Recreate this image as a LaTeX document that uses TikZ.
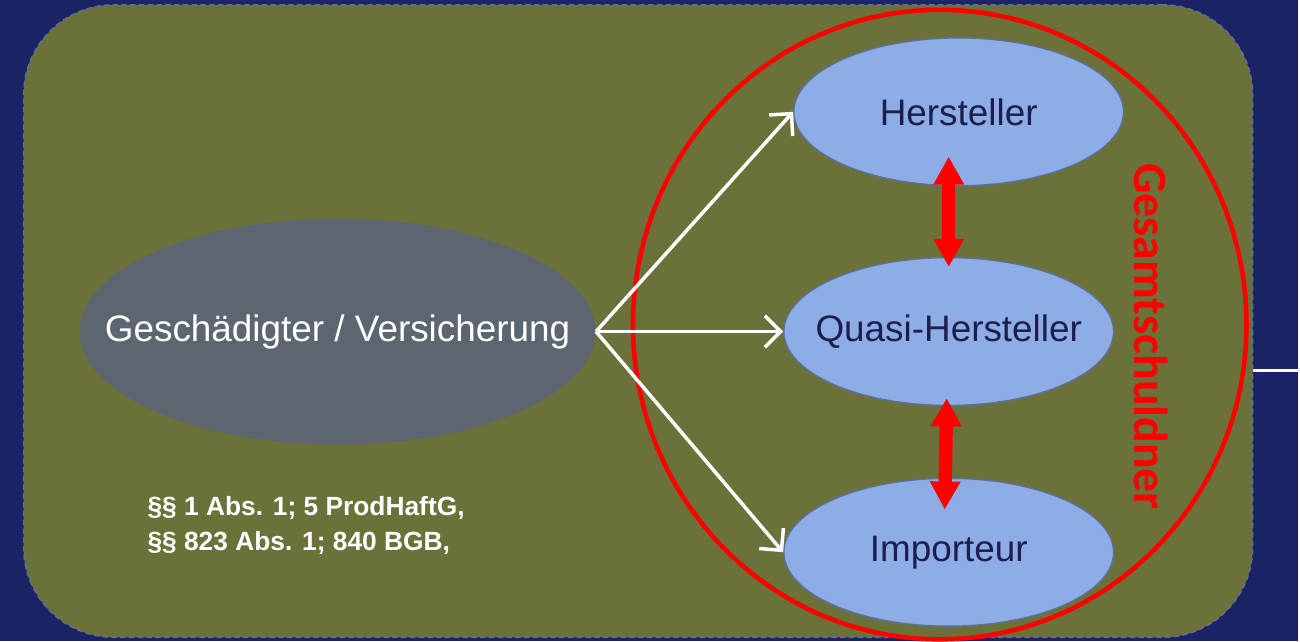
\documentclass[tikz,border=0pt]{standalone}
\usepackage{fontspec}
\setmainfont{Liberation Sans}
\newfontfamily\carlito{Carlito}
\usetikzlibrary{shapes.geometric,arrows.meta}
\definecolor{nachtblau}{HTML}{1C2266}
\definecolor{oliv}{HTML}{6C713A}
\definecolor{hellblau}{HTML}{8EADE6}
\definecolor{randblau}{HTML}{5B7298}
\definecolor{schiefer}{HTML}{5B6670}
\definecolor{tinte}{HTML}{1A1F4E}
\newcommand{\mitte}[1]{\makebox[0pt]{#1}}

\tikzstyle{partei} = [ellipse,fill=hellblau,draw=randblau,line width=0.4pt,text=tinte,font=\fontsize{10.5}{12}\selectfont,minimum width=3.3cm,minimum height=1.48cm,inner sep=0pt]
\tikzstyle{opfer} = [ellipse,fill=schiefer,text=white,font=\fontsize{10.5}{12}\selectfont,minimum width=5.16cm,minimum height=2.26cm,inner sep=0pt]
\tikzstyle{anspruch} = [draw=white,line width=1pt,-{Straight Barb[length=4.5pt,width=9pt]}]
\tikzstyle{ausgleich} = [draw=red,line width=3.8pt,{Triangle[length=8pt,width=8.2pt]}-{Triangle[length=8pt,width=8.2pt]}]

\begin{document}
\begin{tikzpicture}[x=0.01cm,y=-0.01cm]
	\fill[nachtblau] (0,0) rectangle (1300,642);
	\node[draw=randblau,dash pattern=on 1.5pt off 1pt,fill=oliv,rounded corners=0.9cm,minimum width=12.3cm,minimum height=6.33cm,inner sep=0pt] (feld) at (639,321.5) {};
	\coordinate (ausgang) at (1300,371);
	\draw[white,line width=1pt] (feld.east |- ausgang) -- (ausgang);
	
	\node[ellipse,draw=red,line width=1.3pt,minimum width=6.14cm,minimum height=6.3cm,inner sep=0pt] (schuldner) at (941,325) {};
	\node[text=red,rotate=-90,font=\carlito\bfseries\fontsize{13.6}{16}\selectfont] (gesamt) at (1153,337) {Gesamtschuldner};
	
	\node[opfer] (opfer) at (338,332) {\mitte{Geschädigter / Versicherung}};
	\node[partei] (hersteller) at (960,112) {\mitte{Hersteller}};
	\node[partei] (quasi) at (950,332) {\mitte{Quasi-Hersteller}};
	\node[partei] (importeur) at (950,553) {\mitte{Importeur}};
	\node[text=white,align=left,anchor=north west,inner sep=0pt,font=\bfseries\fontsize{7.5}{10}\selectfont] (normen) at (147,496) {§§ 1 Abs. 1; 5 ProdHaftG,\\§§ 823 Abs. 1; 840 BGB,};
	
	\draw[anspruch] (opfer.east) -- (hersteller.west);
	\draw[anspruch] (opfer.east) -- (quasi.west);
	\draw[anspruch] (opfer.east) -- (importeur.west);
	
	\draw[ausgleich] ([shift={(-10,-30)}]hersteller.south) -- ([shift={(0,10)}]quasi.north);
	\draw[ausgleich] ([shift={(-2,-8)}]quasi.south) -- ([shift={(-4,32)}]importeur.north);
\end{tikzpicture}
\end{document}
